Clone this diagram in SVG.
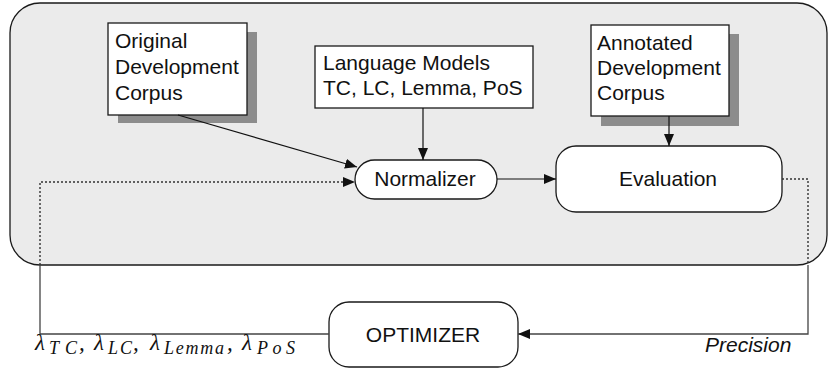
<svg xmlns="http://www.w3.org/2000/svg" width="829" height="370" viewBox="0 0 829 370">
<defs>
<style>
.box{fill:#fff;stroke:#1a1a1a;stroke-width:1.3}
.shadow{fill:#8c8c8c}
.t{font-family:"Liberation Sans",Arial,sans-serif;font-size:21px;fill:#111}
.c{text-anchor:middle}
.line{fill:none;stroke:#111;stroke-width:1.2}
.dot{fill:none;stroke:#333;stroke-width:1.4;stroke-dasharray:2 2}
.solid{fill:none;stroke:#444;stroke-width:1.3}
.math{font-family:"Liberation Serif","Times New Roman",serif;font-style:italic;fill:#111;font-size:23px}
.sub{font-family:"Liberation Serif","Times New Roman",serif;font-style:italic;fill:#111;font-size:18px}
</style>
<marker id="ah" markerWidth="13" markerHeight="10" refX="12" refY="5" orient="auto" markerUnits="userSpaceOnUse">
<path d="M0,0 L12,5 L0,10 Z" fill="#111"/>
</marker>
</defs>
<rect id="container" x="10" y="3" width="817" height="262" rx="30" fill="#ebebeb" stroke="#1a1a1a" stroke-width="1.3"/>
<g id="original">
<rect class="shadow" x="118" y="32" width="139" height="91"/>
<rect class="box" x="108" y="23" width="139" height="92"/>
<text class="t" x="115" y="48">Original</text>
<text class="t" x="115" y="74">Development</text>
<text class="t" x="115" y="100">Corpus</text>
</g>
<g id="langmodels">
<rect class="box" x="315" y="46" width="218" height="62"/>
<text class="t" x="323" y="70">Language Models</text>
<text class="t" x="323" y="95">TC, LC, Lemma, PoS</text>
</g>
<g id="annotated">
<rect class="shadow" x="601" y="34" width="138" height="92"/>
<rect class="box" x="591" y="25" width="138" height="91"/>
<text class="t" x="597" y="50">Annotated</text>
<text class="t" x="597" y="75">Development</text>
<text class="t" x="597" y="100">Corpus</text>
</g>
<g id="normalizer">
<rect class="box" x="355" y="160" width="142" height="39" rx="19.5"/>
<text class="t c" x="425" y="186">Normalizer</text>
</g>
<g id="evaluation">
<rect class="box" x="556" y="146" width="226" height="66" rx="20"/>
<text class="t c" x="668" y="186">Evaluation</text>
</g>
<g id="optimizer">
<rect class="box" x="329" y="302" width="189" height="65" rx="20"/>
<text class="t c" x="423" y="342">OPTIMIZER</text>
</g>
<g id="connectors">
<line class="line" x1="178" y1="115" x2="357" y2="167" marker-end="url(#ah)"/>
<line class="line" x1="423" y1="108" x2="423" y2="160" marker-end="url(#ah)"/>
<line class="line" x1="669" y1="116" x2="669" y2="146" marker-end="url(#ah)"/>
<line class="line" x1="497" y1="179" x2="556" y2="179" marker-end="url(#ah)"/>
<path class="dot" d="M40,265 V182 H346"/>
<path d="M343,177 L355,182 L343,187 Z" fill="#111"/>
<path class="solid" d="M40,265 V334 H329"/>
<path class="dot" d="M782,179 H808 V265"/>
<path class="solid" d="M808,265 V334 H518" marker-end="url(#ah)"/>
<g id="lambda-label">
<text class="math" x="35" y="350">λ</text>
<text class="sub" x="49" y="354" textLength="28" lengthAdjust="spacing">TC</text>
<text class="math" x="79" y="350">,</text>
<text class="math" x="94" y="350">λ</text>
<text class="sub" x="108" y="354" textLength="24" lengthAdjust="spacing">LC</text>
<text class="math" x="133" y="350">,</text>
<text class="math" x="150" y="350">λ</text>
<text class="sub" x="164" y="354" textLength="60" lengthAdjust="spacing">Lemma</text>
<text class="math" x="227" y="350">,</text>
<text class="math" x="242" y="350">λ</text>
<text class="sub" x="257" y="354" textLength="38" lengthAdjust="spacing">PoS</text>
</g>
<text class="t" x="705" y="352" font-style="italic">Precision</text>
</g>
</svg>
